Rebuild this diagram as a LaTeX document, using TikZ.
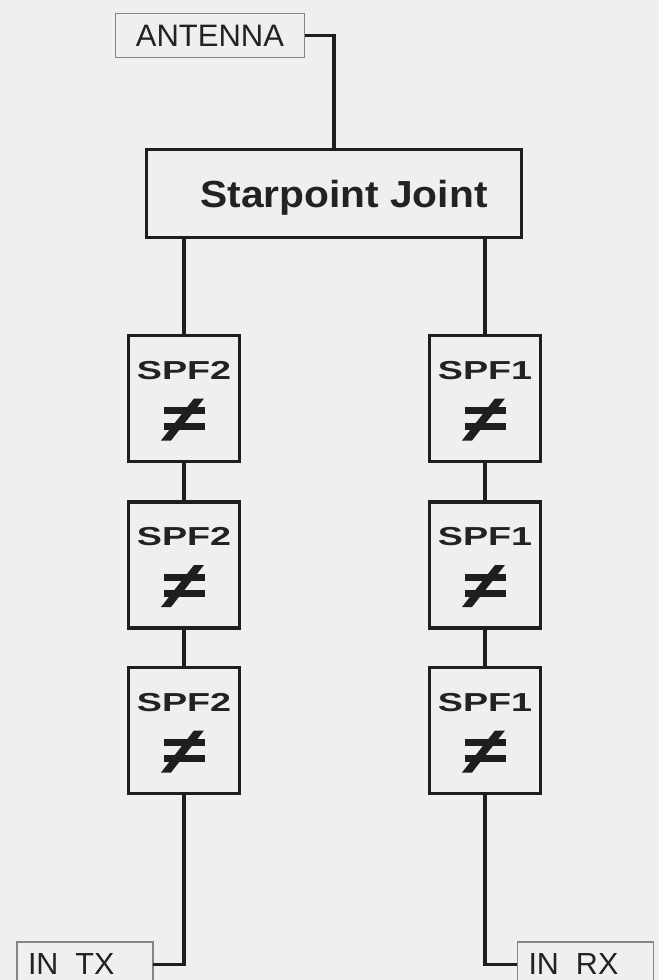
\documentclass[tikz,border=0pt]{standalone}
\usepackage{fontspec}
\usetikzlibrary{calc}
\setmainfont{Liberation Sans}
\newfontfamily\spffont[FakeStretch=1.45]{Liberation Sans}
\newfontfamily\starfont[FakeStretch=1.08]{Liberation Sans}
\definecolor{bg}{HTML}{EFEFEF}
\definecolor{linec}{HTML}{1E1E1E}
\definecolor{txt}{HTML}{222222}
\definecolor{thin}{HTML}{858585}
\tikzset{
  wire/.style={draw=linec, line width=3.3pt},
  spfbox/.style={draw=linec, line width=3.1pt, minimum width=111pt, minimum height=126pt,
    inner sep=0pt, font=\spffont\bfseries\fontsize{26}{26}\selectfont, text=txt,
    text height=18.6pt, text depth=57pt},
  portbox/.style={inner xsep=11pt, inner ysep=0pt,
    text width=114pt, align=left, minimum height=38pt, text=txt,
    font=\fontsize{30.5}{30.5}\selectfont, text height=27.8pt, text depth=0pt},
  portedge/.style={draw=thin, line width=1.5pt},
  neqmark/.style={fill=linec}
}
\begin{document}
\begin{tikzpicture}[x=1pt,y=-1pt]
\useasboundingbox (0,0) rectangle (659,980);
\clip (0,0) rectangle (659,980);
\fill[bg] (0,0) rectangle (659,980);

% antenna
\node[draw=thin, line width=1.5pt, minimum width=189pt, minimum height=44pt, inner sep=0pt,
  text=txt, font=\fontsize{31}{31}\selectfont, text height=22.2pt, text depth=0pt]
  (ant) at (210,35.5) {ANTENNA};

% starpoint joint
\node[draw=linec, line width=3.2pt, minimum width=375pt, minimum height=88pt, inner sep=0pt,
  text=txt, font=\starfont\bfseries\fontsize{37.7}{37.7}\selectfont, text height=27pt, text depth=0pt]
  (star) at (334,193.5) {\hspace*{20pt}Starpoint Joint};

% filter columns
\node[spfbox] (l1) at (184,398.5) {SPF2};
\node[spfbox] (l2) at (184,565) {SPF2};
\node[spfbox] (l3) at (184,730.5) {SPF2};
\node[spfbox] (r1) at (485,398.5) {SPF1};
\node[spfbox] (r2) at (485,565) {SPF1};
\node[spfbox] (r3) at (485,730.5) {SPF1};

\foreach \n in {l1,l2,l3,r1,r2,r3}{
  \fill[neqmark] ($(\n.center)+(-20.5,8.5)$) rectangle ($(\n.center)+(20.5,15.5)$);
  \fill[neqmark] ($(\n.center)+(-20.5,24.5)$) rectangle ($(\n.center)+(20.5,31.5)$);
  \fill[neqmark] ($(\n.center)+(-23,42)$) -- ($(\n.center)+(-13,42)$)
     -- ($(\n.center)+(20,0)$) -- ($(\n.center)+(10,0)$) -- cycle;
}

% ports
\node[portbox] (tx) at (85,961) {IN\hspace{17pt}TX};
\node[portbox] (rx) at (585.5,961) {IN\hspace{17pt}RX};
\draw[portedge] ([yshift=-2pt]tx.south west) |- (tx.north east) -- ([yshift=-2pt]tx.south east);
\draw[portedge] ([yshift=-2pt]rx.south west) |- (rx.north east) -- ([yshift=-2pt]rx.south east);

% connectors
\draw[wire] (ant.east) -| (star.north);
\draw[wire] (l1.north |- star.south) -- (l1.north);
\draw[wire] (r1.north |- star.south) -- (r1.north);
\draw[wire] (l1.south) -- (l2.north);
\draw[wire] (l2.south) -- (l3.north);
\draw[wire] (r1.south) -- (r2.north);
\draw[wire] (r2.south) -- (r3.north);
\draw[wire] (l3.south) |- ($(tx.north east)+(0,23)$);
\draw[wire] (r3.south) |- ($(rx.north west)+(0,23)$);
\end{tikzpicture}
\end{document}
